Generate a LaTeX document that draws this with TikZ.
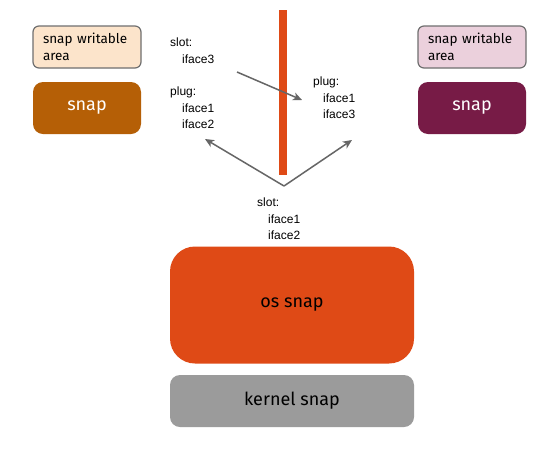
\documentclass[tikz,border=0pt]{standalone}
\usepackage{fontspec}
\setmainfont{Liberation Sans}
\newfontfamily\boxfont{Fira Sans}
\usetikzlibrary{arrows.meta}
\definecolor{ubuorange}{HTML}{DF4A16}
\definecolor{snapbrown}{HTML}{B55F06}
\definecolor{snapplum}{HTML}{771B46}
\definecolor{areapeach}{HTML}{FCE4CB}
\definecolor{areapink}{HTML}{EBD0DC}
\definecolor{areaborder}{HTML}{6F6F6F}
\definecolor{kernelgray}{HTML}{9B9B9B}
\definecolor{linkgray}{HTML}{666666}
\tikzset{
  area/.style={draw=areaborder, line width=1.2pt, rounded corners=6pt,
    minimum width=108pt, minimum height=42pt, text width=88pt, align=left,
    font=\boxfont\fontsize{13.5}{17}\selectfont},
  snapbox/.style={rounded corners=10pt, minimum width=108pt, minimum height=52pt,
    text=white, font=\boxfont\fontsize{18}{20}\selectfont},
  iface/.style={anchor=north west, inner sep=0pt, align=left,
    font=\fontsize{12}{16.5}\selectfont},
  link/.style={draw=linkgray, line width=1.5pt,
    -{Stealth[length=9pt, width=8pt, inset=2.5pt]}}
}
\begin{document}
\begin{tikzpicture}[x=1pt, y=-1pt]
\useasboundingbox[fill=white] (0,0) rectangle (560,448);
\node[area, fill=areapeach] (areaL) at (87,47){snap writable\\area};
\node[snapbox, fill=snapbrown] (snapL) at (87,108){snap};
\node[area, fill=areapink] (areaR) at (472,47){snap writable\\area};
\node[snapbox, fill=snapplum] (snapR) at (472,108){snap};
\fill[ubuorange] (278.5,10) rectangle (287,175);
\node[iface] (slotL) at (170,38){slot:\\\hspace*{12pt}iface3};
\node[iface] (plugL) at (170,87){plug:\\\hspace*{12pt}iface1\\\hspace*{12pt}iface2};
\node[iface] (plugR) at (313,77){plug:\\\hspace*{10pt}iface1\\\hspace*{10pt}iface3};
\node[iface] (slotOS) at (257,198){slot:\\\hspace*{11pt}iface1\\\hspace*{11pt}iface2};
\node[fill=ubuorange, rounded corners=25pt, minimum width=244pt, minimum height=117pt,
  font=\boxfont\fontsize{18}{20}\selectfont] (os) at (292,305){os snap};
\node[fill=kernelgray, rounded corners=10pt, minimum width=244pt, minimum height=52pt,
  font=\boxfont\fontsize{18}{20}\selectfont] (kernel) at (292,401){kernel snap};
\coordinate (fork) at (284,186);
\coordinate (fromL) at (237,72);
\coordinate (toR) at (302,100);
\coordinate (toPlugL) at (205,139);
\coordinate (toPlugR) at (352,140);
\draw[link] (fromL) -- (toR);
\draw[link] (fork) -- (toPlugL);
\draw[link] (fork) -- (toPlugR);
\end{tikzpicture}
\end{document}
